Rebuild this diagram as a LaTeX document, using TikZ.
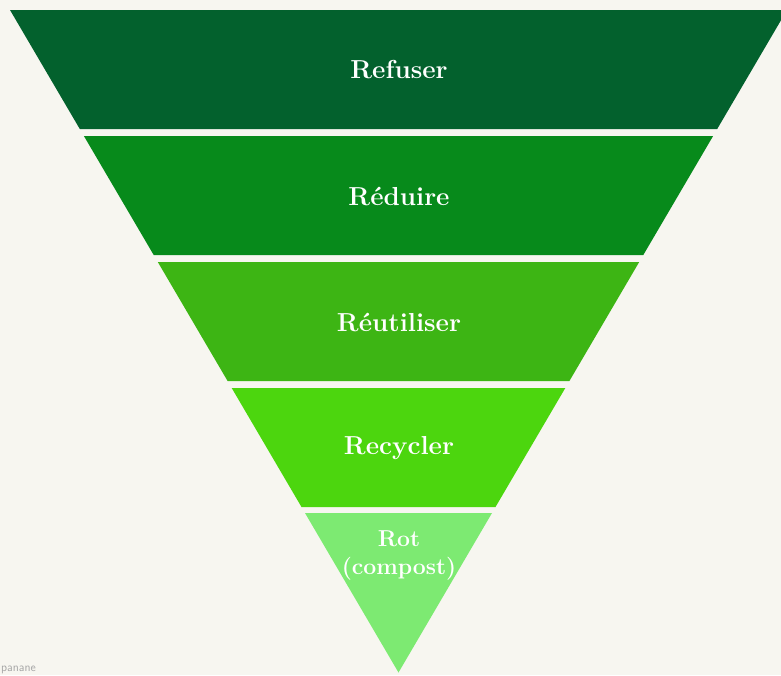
\documentclass[tikz,border=0pt]{standalone}
\usepackage{xcolor}
\usepackage{tikz}
\usetikzlibrary{calc}

\definecolor{bgcream}{HTML}{F7F6F0}
\definecolor{lvlrefuse}{HTML}{03612D}
\definecolor{lvlreduce}{HTML}{078A1B}
\definecolor{lvlreuse}{HTML}{3DB514}
\definecolor{lvlrecycle}{HTML}{4CD60E}
\definecolor{lvlrot}{HTML}{7DEA72}

\tikzset{
  lvllabel/.style={font=\fontsize{26}{28}\selectfont\bfseries, text=white, align=center, inner sep=0pt},
  credit/.style={font=\sffamily\fontsize{12}{13}\selectfont, text=gray!70, inner sep=0pt}
}

\begin{document}
\begin{tikzpicture}[x=1pt,y=-1pt]
% Canvas (pixel units, y downwards)
\fill[bgcream] (0,0) rectangle (781,675);
\useasboundingbox (0,0) rectangle (781,675);

% Funnel bands, top to bottom
\fill[lvlrefuse] (10,10) -- (787,10) -- (717.2,129) -- (79.8,129) -- cycle;
\fill[lvlreduce] (83.9,136) -- (713.1,136) -- (643.3,255) -- (153.7,255) -- cycle;
\fill[lvlreuse] (157.8,262) -- (639.2,262) -- (569.4,381) -- (227.6,381) -- cycle;
\fill[lvlrecycle] (231.7,388) -- (565.3,388) -- (495.5,507) -- (301.5,507) -- cycle;
\fill[lvlrot] (305,513) -- (492,513) -- (398.5,672.5) -- cycle;

% Labels
\node[lvllabel] (refuser) at (399,70) {Refuser};
\node[lvllabel] (reduire) at (399,196) {Réduire};
\node[lvllabel] (reutiliser) at (399,322) {Réutiliser};
\node[lvllabel] (recycler) at (399,448) {Recycler};
\node[lvllabel, font=\fontsize{23}{28}\selectfont\bfseries] (rot) at (399,555) {Rot\\(compost)};

% Credit, bottom left
\node[credit, anchor=base west] (credit) at (1,671) {panane};
\end{tikzpicture}
\end{document}
